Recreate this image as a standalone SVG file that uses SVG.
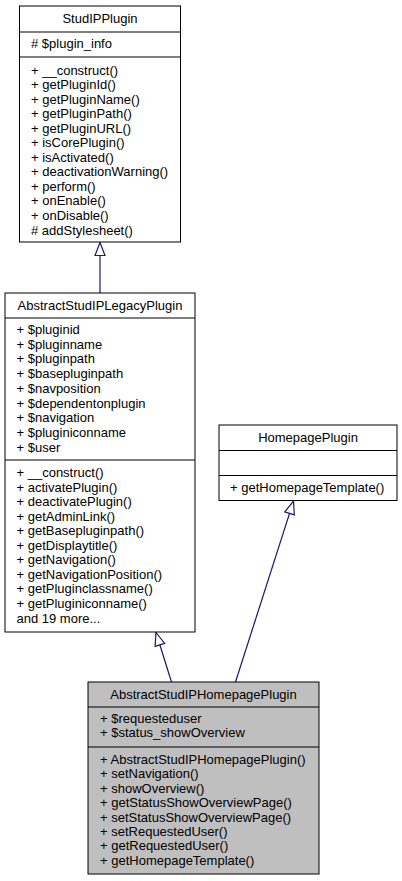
<svg xmlns="http://www.w3.org/2000/svg" width="402" height="881" viewBox="0 0 402 881">
<style>
.box{fill:#ffffff;stroke:#000000;stroke-width:1}
.cur{fill:#bfbfbf;stroke:#000000;stroke-width:1}
.sep{stroke:#000000;stroke-width:1}
text{font-family:"Liberation Sans",Arial,Helvetica,sans-serif;font-size:13px;fill:#000000}
.c{text-anchor:middle}
.edge{fill:none;stroke:#191970;stroke-width:1.2}
</style>
<defs>
<marker id="inh" markerUnits="userSpaceOnUse" markerWidth="16" markerHeight="12" viewBox="-1 -6 16 12" refX="13" refY="0" orient="auto">
<path d="M0,-5 L13,0 L0,5 Z" fill="#ffffff" stroke="#191970" stroke-width="1.2"/>
</marker>
</defs>
<rect width="402" height="881" fill="#ffffff"/>
<g id="connectors">
<path class="edge" d="M100,293 L100,242.5" marker-end="url(#inh)"/>
<path class="edge" d="M235.5,682 L293.5,501" marker-end="url(#inh)"/>
<path class="edge" d="M171.5,682 L156,632.5" marker-end="url(#inh)"/>
</g>
<g id="StudIPPlugin">
<rect class="box" x="19.5" y="6" width="161" height="236"/>
<line class="sep" x1="19.5" y1="32" x2="180.5" y2="32"/>
<line class="sep" x1="19.5" y1="57" x2="180.5" y2="57"/>
<text class="c" x="100" y="23">StudIPPlugin</text>
<text x="31" y="48"># $plugin_info</text>
<text x="31" y="74.5">+ __construct()</text>
<text x="31" y="89.05">+ getPluginId()</text>
<text x="31" y="103.6">+ getPluginName()</text>
<text x="31" y="118.15">+ getPluginPath()</text>
<text x="31" y="132.7">+ getPluginURL()</text>
<text x="31" y="147.25">+ isCorePlugin()</text>
<text x="31" y="161.8">+ isActivated()</text>
<text x="31" y="176.35">+ deactivationWarning()</text>
<text x="31" y="190.9">+ perform()</text>
<text x="31" y="205.45">+ onEnable()</text>
<text x="31" y="220">+ onDisable()</text>
<text x="31" y="234.55"># addStylesheet()</text>
</g>
<g id="AbstractStudIPLegacyPlugin">
<rect class="box" x="5" y="293" width="190" height="339"/>
<line class="sep" x1="5" y1="318" x2="195" y2="318"/>
<line class="sep" x1="5" y1="460" x2="195" y2="460"/>
<text class="c" x="100" y="310">AbstractStudIPLegacyPlugin</text>
<text x="16.5" y="334">+ $pluginid</text>
<text x="16.5" y="348.7">+ $pluginname</text>
<text x="16.5" y="363.4">+ $pluginpath</text>
<text x="16.5" y="378.1">+ $basepluginpath</text>
<text x="16.5" y="392.8">+ $navposition</text>
<text x="16.5" y="407.5">+ $dependentonplugin</text>
<text x="16.5" y="422.2">+ $navigation</text>
<text x="16.5" y="436.9">+ $pluginiconname</text>
<text x="16.5" y="451.6">+ $user</text>
<text x="16.5" y="477">+ __construct()</text>
<text x="16.5" y="491.55">+ activatePlugin()</text>
<text x="16.5" y="506.1">+ deactivatePlugin()</text>
<text x="16.5" y="520.65">+ getAdminLink()</text>
<text x="16.5" y="535.2">+ getBasepluginpath()</text>
<text x="16.5" y="549.75">+ getDisplaytitle()</text>
<text x="16.5" y="564.3">+ getNavigation()</text>
<text x="16.5" y="578.85">+ getNavigationPosition()</text>
<text x="16.5" y="593.4">+ getPluginclassname()</text>
<text x="16.5" y="607.95">+ getPluginiconname()</text>
<text x="16.5" y="622.5">and 19 more...</text>
</g>
<g id="HomepagePlugin">
<rect class="box" x="219" y="425" width="178" height="75.5"/>
<line class="sep" x1="219" y1="450.5" x2="397" y2="450.5"/>
<line class="sep" x1="219" y1="475.5" x2="397" y2="475.5"/>
<text class="c" x="308" y="441.5">HomepagePlugin</text>
<text x="230" y="491.5">+ getHomepageTemplate()</text>
</g>
<g id="AbstractStudIPHomepagePlugin">
<rect class="cur" x="88" y="682" width="231" height="192"/>
<line class="sep" x1="88" y1="707" x2="319" y2="707"/>
<line class="sep" x1="88" y1="747" x2="319" y2="747"/>
<text class="c" x="203.5" y="698.5">AbstractStudIPHomepagePlugin</text>
<text x="100" y="722.5">+ $requesteduser</text>
<text x="100" y="737">+ $status_showOverview</text>
<text x="100" y="764">+ AbstractStudIPHomepagePlugin()</text>
<text x="100" y="778.4">+ setNavigation()</text>
<text x="100" y="792.8">+ showOverview()</text>
<text x="100" y="807.2">+ getStatusShowOverviewPage()</text>
<text x="100" y="821.6">+ setStatusShowOverviewPage()</text>
<text x="100" y="836">+ setRequestedUser()</text>
<text x="100" y="850.4">+ getRequestedUser()</text>
<text x="100" y="864.8">+ getHomepageTemplate()</text>
</g>
</svg>
